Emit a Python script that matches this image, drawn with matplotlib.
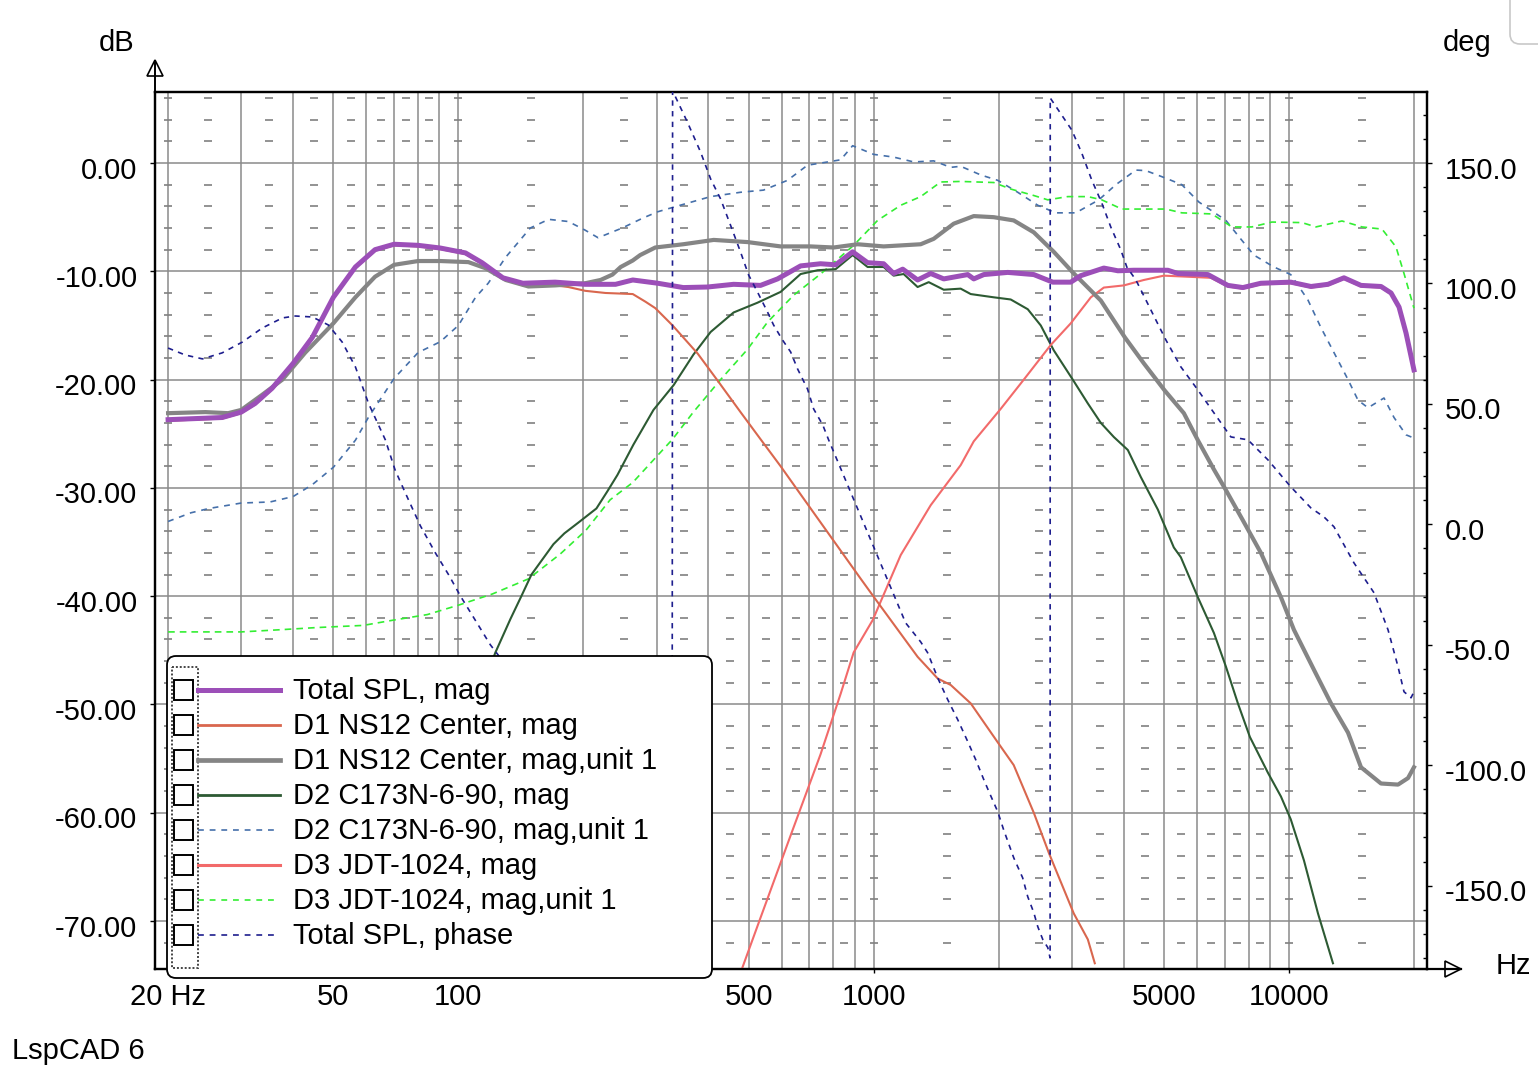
import numpy as np
import matplotlib
matplotlib.use('Agg')
import matplotlib.pyplot as plt
from matplotlib.patches import FancyBboxPatch, Rectangle, Polygon
from matplotlib.ticker import FixedLocator, NullFormatter
from matplotlib.transforms import ScaledTranslation

plt.rcParams['font.family'] = ['Liberation Sans', 'DejaVu Sans']

# ---------------- data ----------------
total_f = [20, 27, 30, 32.4, 35.6, 40, 44.5, 50, 56.5, 63, 70, 80, 90.5, 104, 114, 128, 143, 171, 202, 239,
           263, 302, 348, 398, 460, 534, 587, 667, 745, 810, 890, 967, 1057, 1117, 1175, 1276, 1372, 1475,
           1685, 1742, 1842, 2103, 2430, 2700, 2983, 3153, 3583, 3873, 4232, 5109, 5400, 6381, 7129, 7747,
           8559, 10100, 11300, 12416, 13568, 14912, 16661, 17613, 18412, 19140, 20000]
total_db = [-23.7, -23.5, -23.0, -22.2, -20.8, -18.5, -16.1, -12.4, -9.6, -8.0, -7.5, -7.6, -7.85, -8.3, -9.2,
            -10.6, -11.1, -11.0, -11.2, -11.2, -10.8, -11.1, -11.5, -11.45, -11.2, -11.3, -10.7, -9.5, -9.3,
            -9.4, -8.2, -9.2, -9.3, -10.2, -9.8, -10.8, -10.2, -10.7, -10.3, -10.7, -10.3, -10.1, -10.3,
            -11.0, -11.0, -10.4, -9.7, -9.95, -9.9, -9.9, -10.2, -10.3, -11.3, -11.5, -11.1, -11.0, -11.4,
            -11.2, -10.6, -11.3, -11.4, -12.0, -13.3, -15.7, -19.1]

d1_f = [20, 27, 30, 32.4, 35.6, 40, 44.5, 50, 56.5, 63, 70, 80, 90.5, 104, 114, 128, 143, 171, 184, 202,
        226, 263, 282, 298, 328, 377, 423, 478, 534, 597, 667, 788, 931, 1011, 1099, 1276, 1426, 1533, 1713,
        1990, 2174, 2430, 2641, 3033, 3279, 3408]
d1_db = [-23.8, -23.6, -23.1, -22.3, -20.9, -18.6, -16.2, -12.5, -9.7, -8.1, -7.6, -7.7, -7.95, -8.4, -9.3,
         -10.7, -11.3, -11.3, -11.45, -11.8, -12.0, -12.1, -12.8, -13.4, -15.0, -17.6, -20.2, -23.0, -25.5,
         -28.0, -30.6, -34.5, -38.4, -40.3, -42.2, -45.6, -47.6, -48.2, -49.9, -53.5, -55.6, -60.0, -63.7,
         -69.3, -71.7, -73.9]

d1u_f = [20, 24.6, 27.9, 30, 33.7, 37.7, 42.8, 50, 56.5, 63, 70, 80, 90.5, 105.7, 116, 130, 147.5, 171, 202,
         220, 235, 246, 263, 274, 298, 348, 412, 497, 597, 705, 801, 915, 1057, 1298, 1395, 1559, 1742, 1946,
         2174, 2430, 2715, 3016, 3524, 4026, 4473, 5020, 5584, 6035, 6597, 7050, 7747, 8559, 9566, 10280,
         11488, 12624, 13875, 14912, 16661, 18310, 19353, 20000]
d1u_db = [-23.1, -23.0, -23.1, -22.8, -21.4, -20.0, -17.5, -14.8, -12.4, -10.5, -9.4, -9.05, -9.05, -9.15,
          -9.7, -10.8, -11.4, -11.3, -11.1, -10.8, -10.3, -9.6, -9.0, -8.5, -7.8, -7.5, -7.1, -7.3, -7.7,
          -7.7, -7.8, -7.5, -7.7, -7.5, -7.0, -5.6, -4.9, -5.0, -5.3, -6.4, -8.2, -10.1, -12.7, -16.1,
          -18.5, -21.0, -23.1, -25.6, -28.3, -30.2, -33.0, -36.0, -40.1, -43.1, -46.8, -49.9, -52.6, -55.8,
          -57.3, -57.4, -56.8, -55.8]

d2_f = [90, 110, 122.8, 133.5, 141.8, 150, 159.4, 169.4, 180, 194.6, 215, 228.6, 241.6, 264, 295, 330, 368,
        405, 460, 525, 597, 667, 733, 810, 890, 967, 1057, 1117, 1181, 1276, 1357, 1475, 1620, 1713, 1946,
        2138, 2350, 2526, 2715, 3016, 3279, 3524, 3787, 4093, 4399, 4834, 5282, 5491, 6035, 6597, 7050,
        7535, 8053, 8898, 9566, 10100, 10867, 11747, 12764]
d2_db = [-64, -50, -45.2, -42.1, -40.0, -38.0, -36.6, -35.2, -34.2, -33.2, -31.9, -30.3, -28.8, -26.0, -22.8,
         -20.5, -17.7, -15.6, -13.8, -12.9, -11.9, -10.25, -9.9, -9.8, -8.5, -9.6, -9.6, -10.4, -10.25,
         -11.45, -11.0, -11.7, -11.6, -12.1, -12.4, -12.6, -13.5, -15.0, -17.3, -20.0, -22.2, -24.0, -25.3,
         -26.5, -29.0, -32.0, -35.5, -36.4, -40.1, -43.4, -46.5, -49.9, -53.0, -56.3, -58.5, -60.6, -64.4,
         -69.3, -73.9]

d2u_f = [20, 22.7, 25.1, 30, 35.2, 40, 44.5, 50, 56.5, 60.7, 70, 80, 90.5, 100, 110, 118, 130, 149, 165, 184,
         202, 217, 248, 277.5, 302, 342, 405, 478, 543, 620, 693, 775, 833, 890, 1000, 1117, 1249, 1395,
         1533, 1620, 1811, 1990, 2223, 2484, 2745, 3067, 3485, 3830, 4279, 4523, 5053, 5522, 6069, 7050,
         7577, 8233, 9200, 10100, 11111, 11942, 12835, 13875, 14666, 15502, 16940, 17906, 19140, 20000]
d2u_db = [-33.1, -32.3, -31.9, -31.4, -31.3, -30.8, -29.7, -28.1, -25.6, -23.5, -19.9, -17.5, -16.5, -15.0,
          -12.4, -11.1, -8.7, -6.0, -5.2, -5.4, -6.2, -6.9, -6.0, -5.1, -4.5, -3.9, -3.1, -2.7, -2.5, -1.6,
          -0.2, 0.1, 0.3, 1.6, 0.8, 0.55, 0.1, 0.2, -0.4, -0.3, -1.1, -1.6, -2.7, -3.9, -4.6, -4.6, -3.4,
          -2.0, -0.65, -0.7, -1.4, -2.0, -3.6, -5.3, -6.8, -8.5, -9.6, -10.3, -12.65, -15.2, -17.5, -20.0,
          -21.9, -22.6, -21.7, -23.5, -25.1, -25.4]

d3_f = [483, 534, 631, 745, 833, 895, 995, 1162, 1372, 1620, 1742, 2023, 2299, 2670, 2983, 3334, 3583, 4004,
        4473, 4997, 5709, 6487, 7129, 7747, 8559, 10100, 11300, 12416, 13568, 14912, 16661, 17613, 18412,
        19140, 20000]
d3_db = [-74.3, -69.7, -62.1, -54.6, -49.0, -45.2, -42.2, -36.2, -31.6, -27.9, -25.7, -22.7, -20.0, -16.8,
         -14.8, -12.4, -11.5, -11.3, -10.8, -10.4, -10.5, -10.6, -11.4, -11.6, -11.2, -11.1, -11.5, -11.3,
         -10.7, -11.4, -11.5, -12.1, -13.4, -15.8, -19.2]

d3u_f = [20, 30, 37.2, 45.5, 59, 70, 84.2, 100.6, 120.7, 147.5, 176, 203, 232, 263, 328, 368, 428, 497, 555,
         642, 745, 895, 1022, 1162, 1298, 1450, 1620, 1946, 2138, 2430, 2626, 2934, 3279, 3543, 3960, 5053,
         5522, 6524, 7289, 8143, 9098, 10747, 11616, 13419, 14994, 16754, 18106, 18927, 20000]
d3u_db = [-43.3, -43.3, -43.1, -42.9, -42.7, -42.2, -41.7, -40.8, -39.8, -38.4, -36.1, -33.9, -31.1, -29.5,
          -25.5, -23.0, -20.0, -17.2, -14.7, -12.2, -10.25, -7.6, -5.3, -3.9, -3.1, -1.75, -1.7, -1.8, -2.4,
          -3.0, -3.4, -3.1, -3.1, -3.4, -4.25, -4.25, -4.6, -4.7, -5.9, -5.9, -5.45, -5.5, -5.9, -5.35, -5.9,
          -6.1, -7.75, -10.2, -13.4]

phase_f = [20, 22, 24.2, 27, 30.2, 33.7, 37.7, 40.5, 44.5, 48.6, 52.5, 56.5, 60.7, 66.7, 70.4, 74.5, 81, 88,
           95.1, 101.1, 109.3, 119.4, 135, 160, 200, 260, 327, 328, 356, 383, 405, 428, 452, 478, 500, 525,
           555, 574, 603, 631, 656, 693, 717, 754, 779, 1194, 1298, 1349, 1426, 1508, 1594, 1685, 1761, 1842,
           1895, 1990, 2056, 2174, 2284, 2350, 2430, 2484, 2555, 2626, 2660, 2662, 3000, 3171, 3352, 3543,
           3725, 3938, 4071, 4279, 4523, 4780, 5053, 5491, 6035, 6597, 7248, 7964, 8898, 10100, 11298, 12142,
           12835, 13568, 14343, 16025, 17323, 18310, 18927, 19679, 20000]
phase_deg = [73.2, 70.3, 68.7, 71.2, 75.7, 81.5, 85.7, 86.5, 86.1, 82.8, 75.7, 65.4, 50.4, 35.1, 22.6, 13.1,
             -0.6, -11.8, -21.4, -29.7, -39.2, -50.0, -62, -82, -112, -150, -180, 180, 167.0, 154.6, 143.4,
             135.1, 124.3, 113.1, 103.5, 96.5, 88.2, 82.8, 76.6, 71.6, 64.5, 56.2, 47.9, 41.3, 35.1, -40.9,
             -48.8, -53.3, -63.7, -72.8, -81.1, -90.2, -97.7, -106.0, -111.0, -119.3, -126.8, -138.4, -146.7,
             -154.6, -161.2, -167.0, -172.4, -175.7, -180, 177, 163.7, 154.1, 142.9, 133.4, 123.4, 113.9,
             106.8, 101.5, 93.2, 84.9, 76.6, 65.4, 55.8, 46.3, 36.3, 35.1, 26.8, 15.6, 6.8, 3.1, -1.0, -8.5,
             -16.0, -28.4, -43.8, -59.1, -69.5, -72.0, -69.5]

x_tick_vals = [20, 50, 100, 500, 1000, 5000, 10000]
x_tick_labels = ['20 Hz', '50', '100', '500', '1000', '5000', '10000']
db_ticks = [0, -10, -20, -30, -40, -50, -60, -70]
deg_ticks = [150, 100, 50, 0, -50, -100, -150]

legend_labels = ['Total SPL, mag', 'D1 NS12 Center, mag', 'D1 NS12 Center, mag,unit 1', 'D2 C173N-6-90, mag',
                 'D2 C173N-6-90, mag,unit 1', 'D3 JDT-1024, mag', 'D3 JDT-1024, mag,unit 1', 'Total SPL, phase']

# ---------------- styles ----------------
C_PURPLE = '#9c4fb8'
C_D1 = '#d9674e'
C_GRAY = '#858585'
C_DGREEN = '#2d5a33'
C_STEEL = '#4670aa'
C_SALMON = '#f26a6a'
C_LGREEN = '#33ee33'
C_NAVY = '#1e1e8e'
GRIDC = '#8a8a8a'
FS = 21

W, H = 1538, 1080
fig = plt.figure(figsize=(W / 100, H / 100), dpi=100)
L, R, T, B = 155, 1427, 92, 969
ax = fig.add_axes([L / W, 1 - B / H, (R - L) / W, (B - T) / H])
ax.set_xscale('log')
ax.set_xlim(18.6, 21500)
ax.set_ylim(-74.43, 6.56)

# major grid
grid_freqs = [m * 10 ** e for e in range(1, 5) for m in range(1, 10) if 20 <= m * 10 ** e <= 20000]
for f in grid_freqs:
    ax.axvline(f, color=GRIDC, lw=1.1, zorder=1)
for d in db_ticks:
    ax.axhline(d, color=GRIDC, lw=1.1, zorder=1)

# minor dash grid
minor_x = [20] + [d * k for d in (10, 100, 1000, 10000) for k in (1.0, 1.5, 2.5, 3.5, 4.5, 5.5, 6.5, 7.5, 8.5)
                  if 20 <= d * k <= 16000]
minor_y = [v for v in range(-72, 7, 2) if v % 10 != 0]
MX, MY = np.meshgrid(minor_x, minor_y)
ax.plot(MX.ravel(), MY.ravel(), ls='none', marker='_', ms=6, mew=1.2, color='#808080', zorder=1)

# curves
ax.plot(d2u_f, d2u_db, color=C_STEEL, lw=1.2, dashes=(3.5, 3.5), zorder=3)
ax.plot(d3u_f, d3u_db, color=C_LGREEN, lw=1.2, dashes=(4, 3), zorder=3)
ax.plot(d2_f, d2_db, color=C_DGREEN, lw=1.5, zorder=4)
ax.plot(d3_f, d3_db, color=C_SALMON, lw=1.5, zorder=4)
ax.plot(d1_f, d1_db, color=C_D1, lw=1.5, zorder=4)
ax.plot(d1u_f, d1u_db, color=C_GRAY, lw=3.0, zorder=5)
ax.plot(total_f, total_db, color=C_PURPLE, lw=3.6, zorder=6)

# axes styling
for s in ax.spines.values():
    s.set_color('black')
    s.set_linewidth(1.6)
ax.set_yticks(db_ticks)
ax.set_yticklabels(['%.2f' % v for v in db_ticks])
ax.tick_params(axis='y', direction='out', length=3.6, width=1.0, pad=9, labelsize=FS, color='black')
ax.xaxis.remove_overlapping_locs = False
ax.set_xticks(x_tick_vals)
ax.set_xticklabels(x_tick_labels)
ax.xaxis.set_minor_locator(FixedLocator([100, 1000, 10000]))
ax.xaxis.set_minor_formatter(NullFormatter())
ax.tick_params(axis='x', which='major', length=0, pad=10, labelsize=FS)
ax.tick_params(axis='x', which='minor', length=3, width=1.0, direction='out', color='black')

ax2 = ax.twinx()
ax2.set_ylim(-184.6, 179.5)
ax2.plot(phase_f, phase_deg, color=C_NAVY, lw=1.2, dashes=(3.2, 3.2), zorder=3)
ax2.set_yticks(deg_ticks)
ax2.set_yticklabels(['%.1f' % v for v in deg_ticks])
ax2.yaxis.set_minor_locator(FixedLocator([v for v in range(-180, 180, 10) if v % 50 != 0]))
ax2.tick_params(axis='y', which='major', direction='out', length=3.6, width=1.0, pad=9, labelsize=FS)
ax2.tick_params(axis='y', which='minor', direction='in', length=3.2, width=1.0)
for s in ax2.spines.values():
    s.set_color('black')
    s.set_linewidth(1.6)

# y tick labels sit a few pixels below their grid lines in the reference
shift = ScaledTranslation(0, -4.5 / 100, fig.dpi_scale_trans)
for lab in ax.get_yticklabels() + ax2.get_yticklabels():
    lab.set_transform(lab.get_transform() + shift)

# ---------------- overlay (arrows, titles, legend) ----------------
ov = fig.add_axes([0, 0, 1, 1], zorder=10)
ov.set_xlim(0, W)
ov.set_ylim(H, 0)
ov.axis('off')
ov.patch.set_visible(False)

ov.plot([L, L], [T, 61], color='black', lw=1.4)
ov.add_patch(Polygon([(L, 60), (L - 8, 76), (L + 8, 76)], closed=True, fc='none', ec='black', lw=1.2))
ov.plot([R, 1461], [B, B], color='black', lw=1.6)
ov.add_patch(Polygon([(1461, B), (1445, B - 8), (1445, B + 8)], closed=True, fc='white', ec='black', lw=1.2))

ov.text(117, 43, 'dB', fontsize=FS, ha='center', va='center')
ov.text(1467, 43, 'deg', fontsize=FS, ha='center', va='center')
ov.text(1496, 966, 'Hz', fontsize=FS, ha='left', va='center')
ov.text(12, 1051, 'LspCAD 6', fontsize=FS, ha='left', va='center')
ov.add_patch(FancyBboxPatch((1510, -30), 60, 74, boxstyle='round,pad=0,rounding_size=10',
                            fc='white', ec='#c8c8c8', lw=1.2))

# legend box
ov.add_patch(FancyBboxPatch((167, 656), 712 - 167, 978 - 656, boxstyle='round,pad=0,rounding_size=9',
                            fc='white', ec='black', lw=1.3))
ov.add_patch(Rectangle((171.5, 667), 26, 301, fill=False, ec='#444444', lw=1.4, ls=(0, (1, 1))))
leg_styles = [
    dict(color=C_PURPLE, lw=3.6),
    dict(color=C_D1, lw=2.0),
    dict(color=C_GRAY, lw=3.4),
    dict(color=C_DGREEN, lw=2.0),
    dict(color=C_STEEL, lw=1.2, dashes=(3.5, 3.5)),
    dict(color=C_SALMON, lw=2.2),
    dict(color=C_LGREEN, lw=1.2, dashes=(3.5, 3.5)),
    dict(color=C_NAVY, lw=1.2, dashes=(3.5, 3.5)),
]
for i, (lab, st) in enumerate(zip(legend_labels, leg_styles)):
    yy = 690 + 35 * i
    ov.add_patch(Rectangle((174, yy - 10), 19, 20, fill=False, ec='black', lw=1.4))
    x_end = 280 if 'dashes' not in st else 274
    ov.plot([198, x_end], [yy, yy], **st)
    ov.text(293, yy + 1, lab, fontsize=FS, ha='left', va='center')

fig.savefig('out.png', dpi=100)
